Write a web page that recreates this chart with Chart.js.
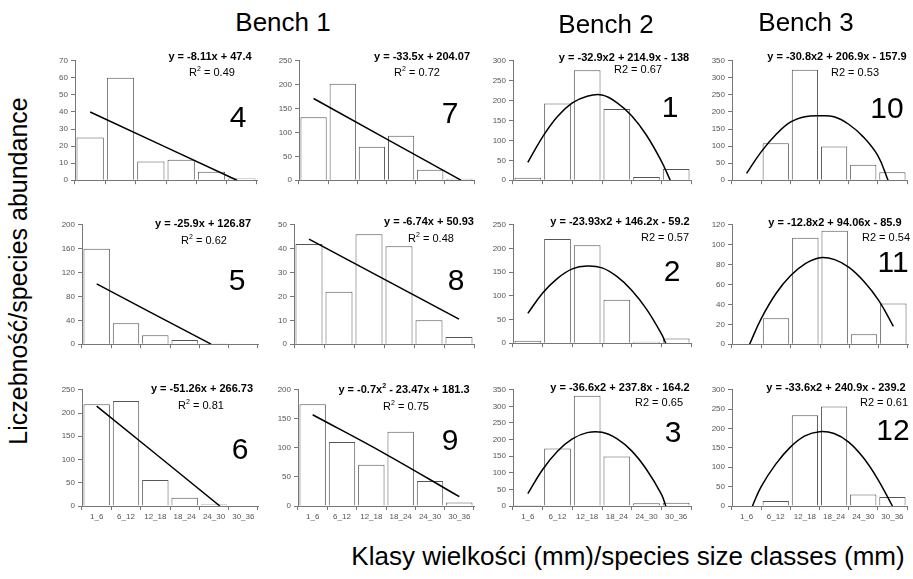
<!DOCTYPE html>
<html>
<head>
<meta charset="utf-8">
<script src="https://cdn.jsdelivr.net/npm/chart.js@4.4.0/dist/chart.umd.min.js"></script>
<style>
body{margin:0;background:#fff;width:913px;height:579px;position:relative;overflow:hidden;font-family:"Liberation Sans",Arial,sans-serif}
canvas{position:absolute}
.t{position:absolute;transform:translate(-50%,-50%);white-space:nowrap;color:#000}
.eq{font-size:11px;font-weight:bold}
.r2{font-size:11px}
.num{font-size:30px}
.head{font-size:26px}
sup{font-size:7px;vertical-align:5px;line-height:0}
</style>
</head>
<body>
<script>
var sizeClasses = ["1_6", "6_12", "12_18", "18_24", "24_30", "30_36"];

// Bench 1
var counts4 = [25, 60, 11, 12, 5, 1];
var fit4 = [[1, 40], [5.84, 0]];
var counts5 = [160, 35, 15, 7, 1, 0];
var fit5 = [[1, 101], [4.9, 0]];
var counts6 = [219, 226, 56, 18, 3, 1];
var fit6 = [[1, 215], [5.2, 0]];
var counts7 = [132, 202, 70, 93, 22, 3];
var fit7 = [[1, 171], [6.05, 0]];
var counts8 = [42, 22, 46, 41, 10, 3];
var fit8 = [[1, 44], [6, 10.5]];
var counts9 = [175, 110, 71, 128, 43, 6];
var fit9 = [[1, 157], [3.5, 89], [6, 16]];

// Bench 2
var counts1 = [6, 193, 276, 179, 8, 28];
var fit1 = [[1, 45], [1.5, 109], [2, 160], [2.5, 194], [3, 211], [3.5, 214], [4, 195], [4.5, 162], [5, 113], [5.5, 48], [5.8, 0]];
var counts2 = [5, 220, 207, 92, 3, 10];
var fit2 = [[1, 63], [1.5, 106], [2, 137], [2.5, 157], [3, 163], [3.5, 159], [4, 141], [4.5, 112], [5, 72], [5.5, 20], [5.65, 0]];
var counts3 = [3, 173, 332, 149, 8, 10];
var fit3 = [[1, 37], [1.5, 110], [2, 165], [2.5, 202], [3, 221], [3.5, 222], [4, 203], [4.5, 166], [5, 110], [5.5, 36], [5.65, 0]];

// Bench 3
var counts10 = [0, 108, 324, 99, 45, 23];
var fit10 = [[1, 20], [1.5, 83], [2, 133], [2.5, 170], [3, 186], [3.5, 189], [4, 186], [4.5, 164], [5, 127], [5.5, 72], [5.85, 0]];
var counts11 = [0, 26, 107, 114, 10, 41];
var fit11 = [[1.1, 0], [1.5, 26], [2, 51], [2.5, 69], [3, 81], [3.5, 87], [4, 85], [4.5, 77], [5, 63], [5.5, 44], [6, 18]];
var counts12 = [1, 13, 234, 257, 30, 23];
var fit12 = [[1.2, 0], [1.5, 50], [2, 108], [2.5, 152], [3, 181], [3.5, 192], [4, 187], [4.5, 165], [5, 125], [5.5, 69], [6, 0]];

var panels = [
  {n: "4", counts: counts4, fit: fit4, yMax: 70, step: 10, eq: "y = -8.11x + 47.4", r2: "R<sup>2</sup> = 0.49",
   L: 75, R: 257, T: 59, B: 182, eqPos: [210, 56], r2Pos: [212, 72], nPos: [238, 117]},
  {n: "7", counts: counts7, fit: fit7, yMax: 250, step: 50, eq: "y = -33.5x + 204.07", r2: "R<sup>2</sup> = 0.72",
   L: 299, R: 474, T: 59, B: 182, eqPos: [422, 56], r2Pos: [417, 72], nPos: [450, 113]},
  {n: "1", counts: counts1, fit: fit1, yMax: 300, step: 50, eq: "y = -32.9x2 + 214.9x - 138", r2: "R2 = 0.67",
   L: 513, R: 691, T: 59, B: 182, eqPos: [624, 57], r2Pos: [638, 69], nPos: [670, 107]},
  {n: "10", counts: counts10, fit: fit10, yMax: 350, step: 50, eq: "y = -30.8x2 + 206.9x - 157.9", r2: "R2 = 0.53",
   L: 732, R: 907, T: 59, B: 182, eqPos: [837, 56], r2Pos: [855, 72], nPos: [887, 108]},
  {n: "5", counts: counts5, fit: fit5, yMax: 200, step: 40, eq: "y = -25.9x + 126.87", r2: "R<sup>2</sup> = 0.62",
   L: 82, R: 258, T: 223, B: 346, eqPos: [203, 223], r2Pos: [204, 240], nPos: [237, 280]},
  {n: "8", counts: counts8, fit: fit8, yMax: 50, step: 10, eq: "y = -6.74x + 50.93", r2: "R<sup>2</sup> = 0.48",
   L: 294, R: 474, T: 223, B: 346, eqPos: [429, 221], r2Pos: [431, 238], nPos: [456, 280]},
  {n: "2", counts: counts2, fit: fit2, yMax: 250, step: 50, eq: "y = -23.93x2 + 146.2x - 59.2", r2: "R2 = 0.57",
   L: 513, R: 691, T: 223, B: 345, eqPos: [620, 221], r2Pos: [665, 237], nPos: [672, 271]},
  {n: "11", counts: counts11, fit: fit11, yMax: 120, step: 20, eq: "y = -12.8x2 + 94.06x - 85.9", r2: "R2 = 0.54",
   L: 732, R: 908, T: 223, B: 346, eqPos: [835, 222], r2Pos: [886, 237], nPos: [893, 262]},
  {n: "6", counts: counts6, fit: fit6, yMax: 250, step: 50, eq: "y = -51.26x + 266.73", r2: "R<sup>2</sup> = 0.81", labels: true,
   L: 82, R: 258, T: 388, B: 506, eqPos: [202, 388], r2Pos: [201, 405], nPos: [240, 449]},
  {n: "9", counts: counts9, fit: fit9, yMax: 200, step: 50, eq: "y = -0.7x<sup>2</sup> - 23.47x + 181.3", r2: "R<sup>2</sup> = 0.75", labels: true,
   L: 298, R: 474, T: 388, B: 506, eqPos: [404, 389], r2Pos: [406, 406], nPos: [450, 440]},
  {n: "3", counts: counts3, fit: fit3, yMax: 350, step: 50, eq: "y = -36.6x2 + 237.8x - 164.2", r2: "R2 = 0.65", labels: true,
   L: 513, R: 691, T: 388, B: 506, eqPos: [620, 387], r2Pos: [659, 402], nPos: [673, 432]},
  {n: "12", counts: counts12, fit: fit12, yMax: 300, step: 50, eq: "y = -33.6x2 + 240.9x - 239.2", r2: "R2 = 0.61", labels: true,
   L: 732, R: 907, T: 388, B: 506, eqPos: [836, 387], r2Pos: [884, 402], nPos: [893, 430]}
];

function addText(cls, html, x, y) {
  var d = document.createElement('div');
  d.className = 't ' + cls;
  d.innerHTML = html;
  d.style.left = x + 'px';
  d.style.top = y + 'px';
  document.body.appendChild(d);
  return d;
}

function drawPanel(p) {
  var yw = 28, pad = 6, xh = p.labels ? 20 : 6;
  var cv = document.createElement('canvas');
  cv.width = p.R - p.L + yw + 3;
  cv.height = p.B - p.T + pad + xh;
  cv.style.left = (p.L - yw) + 'px';
  cv.style.top = (p.T - pad) + 'px';
  document.body.appendChild(cv);

  new Chart(cv, {
    type: 'bar',
    data: {
      labels: sizeClasses,
      datasets: [
        {
          type: 'line',
          xAxisID: 'x2',
          data: p.fit.map(function (d) { return {x: d[0], y: d[1]}; }),
          borderColor: '#000',
          borderWidth: 1.5,
          pointRadius: 0,
          fill: false,
          tension: 0.4,
          order: 0
        },
        {
          data: p.counts,
          backgroundColor: '#fff',
          borderColor: '#555',
          borderWidth: 1,
          barPercentage: 0.9,
          categoryPercentage: 1,
          grouped: false,
          order: 1
        }
      ]
    },
    options: {
      responsive: false,
      animation: false,
      layout: {padding: {top: pad, right: 3, left: 0, bottom: 0}},
      plugins: {legend: {display: false}, tooltip: {enabled: false}},
      scales: {
        x: {
          grid: {offset: true, drawOnChartArea: false, tickLength: 4, color: '#777'},
          border: {color: '#777'},
          ticks: {display: !!p.labels, font: {size: 8}, color: '#555', padding: 2, maxRotation: 0, autoSkip: false},
          afterFit: function (s) { s.height = xh; }
        },
        x2: {type: 'linear', display: false, offset: false, grid: {offset: false}, min: 0.5, max: 6.5},
        y: {
          min: 0,
          max: p.yMax,
          ticks: {stepSize: p.step, font: {size: 8}, color: '#555', padding: 3},
          grid: {drawOnChartArea: false, tickLength: 4, color: '#777'},
          border: {color: '#777'},
          afterFit: function (s) { s.width = yw; }
        }
      }
    }
  });

  addText('eq', p.eq, p.eqPos[0], p.eqPos[1]);
  addText('r2', p.r2, p.r2Pos[0], p.r2Pos[1]);
  addText('num', p.n, p.nPos[0], p.nPos[1]);
}

panels.forEach(drawPanel);

addText('head', 'Bench 1', 283, 22);
addText('head', 'Bench 2', 606, 24);
addText('head', 'Bench 3', 806, 22);

var yl = addText('head', 'Liczebność/species abundance', 18, 271);
yl.style.fontSize = '25px';
yl.style.transform = 'translate(-50%,-50%) rotate(-90deg)';
addText('head', 'Klasy wielkości (mm)/species size classes (mm)', 628, 556);
</script>
</body>
</html>
